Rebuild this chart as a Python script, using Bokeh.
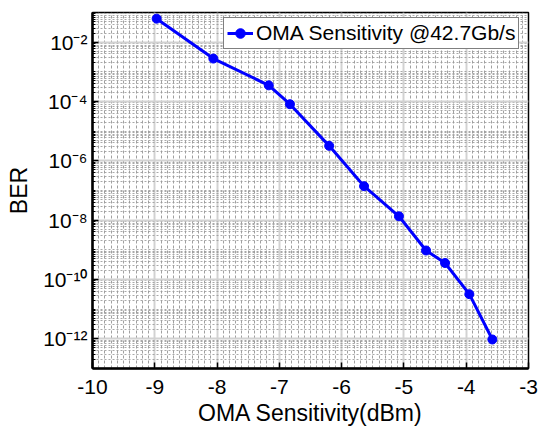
import numpy as np
from bokeh.plotting import figure
from bokeh.models import (FixedTicker, Legend, LegendItem,
                          Range1d, ColumnDataSource)
from bokeh.embed import file_html
from bokeh.resources import INLINE

# ---- data ----
oma_dbm = [-8.97, -8.06, -7.17, -6.83, -6.20, -5.64, -5.08, -4.645, -4.34, -3.95, -3.58]
ber = [6.2e-2, 2.8e-3, 3.5e-4, 8.1e-5, 3.2e-6, 1.4e-7, 1.35e-8, 9.5e-10, 3.6e-10, 3.2e-11, 9.5e-13]
x_ticks = [-10, -9, -8, -7, -6, -5, -4, -3]
y_tick_exponents = [-12, -10, -8, -6, -4, -2]
series_name = "OMA Sensitivity @42.7Gb/s"
x_label = "OMA Sensitivity(dBm)"
y_label = "BER"

FONT = "Liberation Sans"
SUP = str.maketrans("-0123456789", "⁻⁰¹²³⁴⁵⁶⁷⁸⁹")

y_ticks = [10.0 ** e for e in y_tick_exponents]
y_minor = [k * 10.0 ** e for e in range(-13, 0) for k in range(1, 10)]
x_minor = [round(v, 1) for v in np.arange(-10, -2.95, 0.1)]

p = figure(width=538, height=434, y_axis_type="log",
           x_range=Range1d(-10, -3), y_range=Range1d(1e-13, 1e-1),
           output_backend="svg", toolbar_location=None,
           min_border_left=92, min_border_top=12, min_border_right=10,
           min_border_bottom=66, background_fill_color="white",
           border_fill_color="white",
           x_axis_label=x_label, y_axis_label=y_label)

# axes
p.xaxis.ticker = FixedTicker(ticks=x_ticks, minor_ticks=[])
p.yaxis.ticker = FixedTicker(ticks=y_ticks, minor_ticks=y_minor)
p.yaxis.major_label_overrides = {t: "10" + str(e).translate(SUP)
                                 for t, e in zip(y_ticks, y_tick_exponents)}
p.xaxis.major_label_overrides = {t: str(t) for t in x_ticks}
for ax in (p.xaxis[0], p.yaxis[0]):
    ax.axis_line_width = 2.5
    ax.axis_line_color = "black"
    ax.major_tick_in = 6
    ax.major_tick_out = 0
    ax.minor_tick_in = 3
    ax.minor_tick_out = 0
    ax.major_tick_line_width = 1.5
    ax.major_tick_line_color = "black"
    ax.minor_tick_line_color = "black"
    ax.major_label_text_font = FONT
    ax.major_label_text_font_size = "21px"
    ax.major_label_text_color = "black"
    ax.axis_label_text_font = FONT
    ax.axis_label_text_font_size = "23px"
    ax.axis_label_text_font_style = "normal"
    ax.axis_label_text_color = "black"
p.xaxis.major_label_standoff = 11
p.yaxis.major_label_standoff = 5
p.xaxis.axis_label_standoff = 3
p.yaxis.axis_label_standoff = 8

p.outline_line_color = "black"
p.outline_line_width = 1.5

# grids
p.xgrid.ticker = FixedTicker(ticks=x_ticks, minor_ticks=x_minor)
p.ygrid.ticker = FixedTicker(ticks=y_ticks, minor_ticks=y_minor)
for g in (p.xgrid[0], p.ygrid[0]):
    g.grid_line_color = "#d2d2d2"
    g.grid_line_width = 2
    g.grid_line_alpha = 1
    g.minor_grid_line_alpha = 0.85
    g.minor_grid_line_width = 1
p.xgrid.minor_grid_line_color = "#8f8f8f"
p.xgrid.minor_grid_line_dash = "3 2"
p.ygrid.minor_grid_line_color = "#9a9a9a"
p.ygrid.minor_grid_line_dash = "2 2"

src = ColumnDataSource(dict(x=oma_dbm, y=ber))
ln = p.line("x", "y", source=src, line_color="#0000ff", line_width=3)
mk = p.scatter("x", "y", source=src, size=9, fill_color="#0000ff",
               line_color="#0000ff")

legend = Legend(items=[LegendItem(label=series_name, renderers=[ln, mk])],
                location=(131, 319), padding=3, margin=0, spacing=0,
                glyph_width=26, glyph_height=24, label_height=24,
                label_standoff=3, label_text_font=FONT,
                label_text_font_size="21px", label_text_color="black",
                border_line_color="black", border_line_width=1.5,
                background_fill_color="white", background_fill_alpha=1)
p.add_layout(legend)

open("out.html", "w").write(file_html(p, INLINE))
